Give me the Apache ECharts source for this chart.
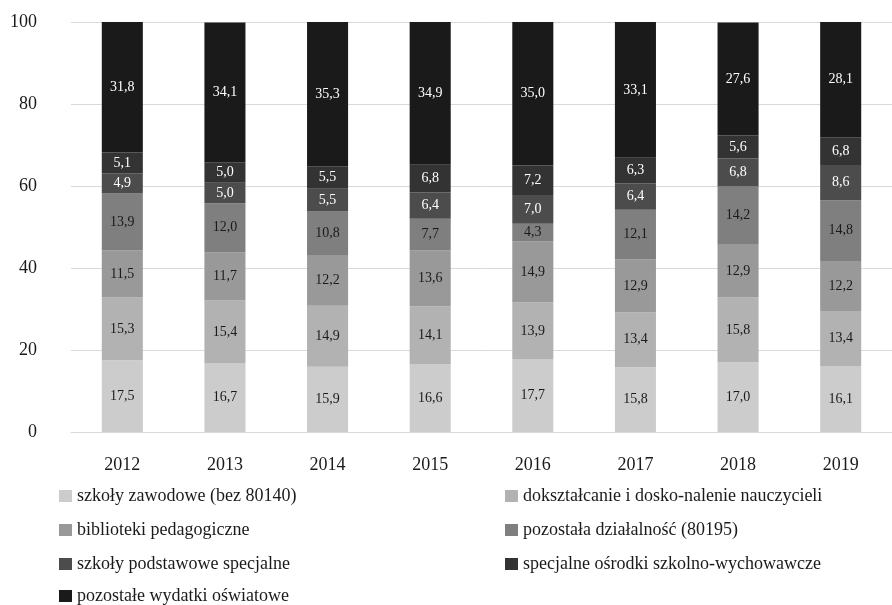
<!DOCTYPE html>
<html>
<head>
<meta charset="utf-8">
<script src="https://cdn.jsdelivr.net/npm/echarts@6/dist/echarts.min.js"></script>
<style>html,body{margin:0;padding:0;background:#fff}#c{width:892px;height:605px}</style>
</head>
<body>
<div id="c"></div>
<script>
const categories = ['2012','2013','2014','2015','2016','2017','2018','2019'];
const seriesNames = [
  'szkoły zawodowe (bez 80140)',
  'dokształcanie i dosko-nalenie nauczycieli',
  'biblioteki pedagogiczne',
  'pozostała działalność (80195)',
  'szkoły podstawowe specjalne',
  'specjalne ośrodki szkolno-wychowawcze',
  'pozostałe wydatki oświatowe'
];
const szkolyZawodowe = [17.5, 16.7, 15.9, 16.6, 17.7, 15.8, 17.0, 16.1];
const doksztalcanie = [15.3, 15.4, 14.9, 14.1, 13.9, 13.4, 15.8, 13.4];
const biblioteki = [11.5, 11.7, 12.2, 13.6, 14.9, 12.9, 12.9, 12.2];
const pozostalaDzialalnosc = [13.9, 12.0, 10.8, 7.7, 4.3, 12.1, 14.2, 14.8];
const szkolyPodstawoweSpecjalne = [4.9, 5.0, 5.5, 6.4, 7.0, 6.4, 6.8, 8.6];
const specjalneOsrodki = [5.1, 5.0, 5.5, 6.8, 7.2, 6.3, 5.6, 6.8];
const pozostaleWydatki = [31.8, 34.1, 35.3, 34.9, 35.0, 33.1, 27.6, 28.1];
const yTicks = [0, 20, 40, 60, 80, 100];

const allData = [szkolyZawodowe, doksztalcanie, biblioteki, pozostalaDzialalnosc, szkolyPodstawoweSpecjalne, specjalneOsrodki, pozostaleWydatki];
const colors = ['#cccccc', '#b2b2b2', '#999999', '#7f7f7f', '#4c4c4c', '#333333', '#1a1a1a'];
const labelColors = ['#1a1a1a', '#1a1a1a', '#1a1a1a', '#1a1a1a', '#ffffff', '#ffffff', '#ffffff'];
const FONT = 'Liberation Serif';

const chart = echarts.init(document.getElementById('c'));
const series = allData.map((d, i) => ({
  name: seriesNames[i],
  type: 'bar',
  stack: 'total',
  data: d,
  barWidth: '40%',
  itemStyle: { color: colors[i] },
  label: {
    show: true,
    position: 'inside',
    color: labelColors[i],
    fontFamily: FONT,
    fontSize: 14,
    formatter: p => p.value.toFixed(1).replace('.', ',')
  },
  emphasis: { disabled: true }
}));

// legend layout: two columns, rows every 34 px
const legendText = { fontFamily: FONT, fontSize: 18, lineHeight: 18, color: '#1a1a1a' };
const legendPos = [
  [59, 487], [505, 487],
  [59, 521], [505, 521],
  [59, 555], [505, 555],
  [59, 587]
];
const legends = seriesNames.map((n, i) => ({
  orient: 'horizontal', left: legendPos[i][0], top: legendPos[i][1],
  padding: 0, itemWidth: 13, itemHeight: 12, itemGap: 0, icon: 'rect',
  textStyle: legendText, data: [n], selectedMode: false
}));

chart.setOption({
  animation: false,
  textStyle: { fontFamily: FONT },
  grid: { left: 71, right: 0, top: 22, bottom: 173, containLabel: false },
  xAxis: {
    type: 'category',
    data: categories,
    axisLine: { show: true, lineStyle: { color: '#d9d9d9', width: 1 } },
    axisTick: { show: false },
    axisLabel: { color: '#1a1a1a', fontFamily: FONT, fontSize: 18, margin: 24 }
  },
  yAxis: {
    type: 'value',
    min: yTicks[0],
    max: yTicks[yTicks.length - 1],
    interval: 20,
    axisLine: { show: false },
    axisTick: { show: false },
    splitLine: { lineStyle: { color: '#d9d9d9', width: 1 } },
    axisLabel: { color: '#1a1a1a', fontFamily: FONT, fontSize: 18, margin: 34 }
  },
  legend: legends,
  series: series
});
</script>
</body>
</html>
